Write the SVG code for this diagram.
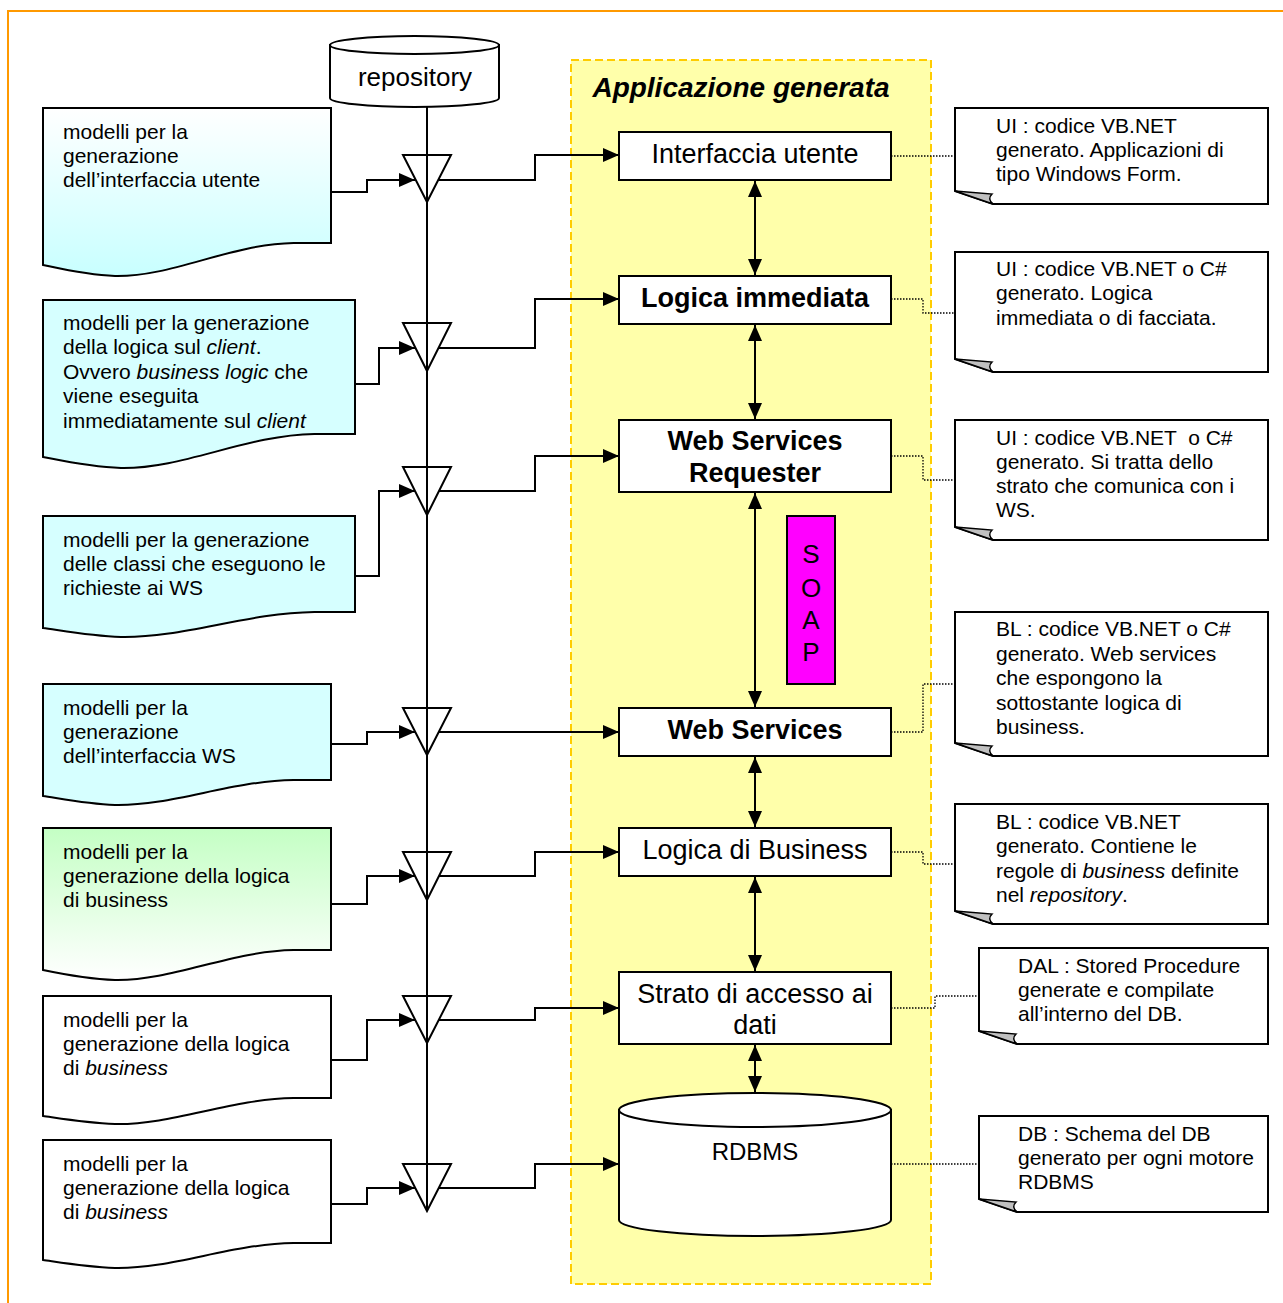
<svg xmlns="http://www.w3.org/2000/svg" width="1283" height="1303" viewBox="0 0 1283 1303">
<defs>
<style>
.t{font-family:"Liberation Sans",Arial,sans-serif;font-size:21px;fill:#000}
.bt{font-family:"Liberation Sans",Arial,sans-serif;font-size:27px;fill:#000;text-anchor:middle}
.b{font-weight:bold}
.doc{stroke:#000;stroke-width:2}
.box{fill:#fff;stroke:#000;stroke-width:2}
.note{fill:#fff;stroke:#000;stroke-width:2}
.fold{fill:#c0c0c0;stroke:#000;stroke-width:1.5}
.conn{fill:none;stroke:#000;stroke-width:2}
.tri{fill:none;stroke:#000;stroke-width:2}
.dot{fill:none;stroke:#000;stroke-width:1.3;stroke-dasharray:1.5 1.5}
</style>
<linearGradient id="gCyan" x1="0" y1="0" x2="0" y2="1"><stop offset="0" stop-color="#ffffff"/><stop offset="1" stop-color="#c8ffff"/></linearGradient>
<linearGradient id="gGreen" x1="0" y1="0" x2="0" y2="1"><stop offset="0" stop-color="#c4ffc4"/><stop offset="1" stop-color="#ffffff"/></linearGradient>
<marker id="ah" viewBox="0 0 16 14" refX="16" refY="7" markerWidth="16" markerHeight="14" markerUnits="userSpaceOnUse" orient="auto-start-reverse"><path d="M0,0 L16,7 L0,14 Z" fill="#000"/></marker>
</defs>

<rect x="8" y="11" width="1290" height="1300" fill="#fff" stroke="#ff9900" stroke-width="2"/>

<g id="container">
<rect x="571" y="60" width="360" height="1224" fill="#ffffaa" stroke="#ffcc00" stroke-width="2" stroke-dasharray="8 4"/>
<text class="bt b" x="741" y="97" style="font-style:italic;font-size:28px">Applicazione generata</text>
</g>

<g id="repository">
<path d="M330,45 V98 A84.5,9 0 0 0 499,98 V45 Z" class="box"/>
<ellipse cx="414.5" cy="45" rx="84.5" ry="9" class="box"/>
<text class="bt" x="415" y="86" style="font-size:26px">repository</text>
</g>

<g id="docs">
<g id="doc1">
<path class="doc" fill="url(#gCyan)" d="M43,108 H331 V243 H293.6 C230.2,244 172.6,277 115,276 C86.2,275 57.4,268 43,265 Z"/>
<text class="t" x="63" y="139">modelli per la</text>
<text class="t" x="63" y="163">generazione</text>
<text class="t" x="63" y="187">dell’interfaccia utente</text>
</g>
<g id="doc2">
<path class="doc" fill="#d6ffff" d="M43,300 H355 V434 H314.4 C245.8,435 183.4,469 121,468 C89.8,467 58.6,460 43,457 Z"/>
<text class="t" x="63" y="330">modelli per la generazione</text>
<text class="t" x="63" y="354">della logica sul <tspan font-style="italic">client</tspan>.</text>
<text class="t" x="63" y="379">Ovvero <tspan font-style="italic">business logic</tspan> che</text>
<text class="t" x="63" y="403">viene eseguita</text>
<text class="t" x="63" y="428">immediatamente sul <tspan font-style="italic">client</tspan></text>
</g>
<g id="doc3">
<path class="doc" fill="#d6ffff" d="M43,516 H355 V612 H314.4 C245.8,613 183.4,638 121,637 C89.8,636 58.6,630 43,628 Z"/>
<text class="t" x="63" y="547">modelli per la generazione</text>
<text class="t" x="63" y="571">delle classi che eseguono le</text>
<text class="t" x="63" y="595">richieste ai WS</text>
</g>
<g id="doc4">
<path class="doc" fill="#d6ffff" d="M43,684 H331 V780 H293.6 C230.2,781 172.6,806 115,805 C86.2,804 57.4,798 43,796 Z"/>
<text class="t" x="63" y="715">modelli per la</text>
<text class="t" x="63" y="739">generazione</text>
<text class="t" x="63" y="763">dell’interfaccia WS</text>
</g>
<g id="doc5">
<path class="doc" fill="url(#gGreen)" d="M43,828 H331 V950 H293.6 C230.2,951 172.6,981 115,980 C86.2,979 57.4,973 43,970 Z"/>
<text class="t" x="63" y="859">modelli per la</text>
<text class="t" x="63" y="883">generazione della logica</text>
<text class="t" x="63" y="907">di business</text>
</g>
<g id="doc6">
<path class="doc" fill="#fff" d="M43,996 H331 V1098 H293.6 C230.2,1099 172.6,1125 115,1124 C86.2,1123 57.4,1118 43,1116 Z"/>
<text class="t" x="63" y="1027">modelli per la</text>
<text class="t" x="63" y="1051">generazione della logica</text>
<text class="t" x="63" y="1075">di <tspan font-style="italic">business</tspan></text>
</g>
<g id="doc7">
<path class="doc" fill="#fff" d="M43,1140 H331 V1243 H293.6 C230.2,1244 172.6,1269 115,1268 C86.2,1267 57.4,1262 43,1260 Z"/>
<text class="t" x="63" y="1171">modelli per la</text>
<text class="t" x="63" y="1195">generazione della logica</text>
<text class="t" x="63" y="1219">di <tspan font-style="italic">business</tspan></text>
</g>
</g>

<g id="merges">
<path class="tri" d="M403,155 H451 L427,202 Z"/>
<path class="tri" d="M403,323 H451 L427,371 Z"/>
<path class="tri" d="M403,467 H451 L427,515 Z"/>
<path class="tri" d="M403,708 H451 L427,755 Z"/>
<path class="tri" d="M403,852 H451 L427,900 Z"/>
<path class="tri" d="M403,996 H451 L427,1043 Z"/>
<path class="tri" d="M403,1164 H451 L427,1211 Z"/>
</g>

<g id="layers">
<g id="n-ui"><rect class="box" x="619" y="132" width="272" height="48"/><text class="bt" x="755" y="163">Interfaccia utente</text></g>
<g id="n-logica"><rect class="box" x="619" y="276" width="272" height="48"/><text class="bt b" x="755" y="307">Logica immediata</text></g>
<g id="n-wsr"><rect class="box" x="619" y="420" width="272" height="72"/><text class="bt b" x="755" y="450">Web Services</text><text class="bt b" x="755" y="482">Requester</text></g>
<g id="n-ws"><rect class="box" x="619" y="708" width="272" height="48"/><text class="bt b" x="755" y="739">Web Services</text></g>
<g id="n-bl"><rect class="box" x="619" y="828" width="272" height="48"/><text class="bt" x="755" y="859">Logica di Business</text></g>
<g id="n-dal"><rect class="box" x="619" y="972" width="272" height="72"/><text class="bt" x="755" y="1003">Strato di accesso ai</text><text class="bt" x="755" y="1034">dati</text></g>
<g id="n-rdbms">
<path class="box" d="M619,1110 V1220 A136,16 0 0 0 891,1220 V1110 Z"/>
<ellipse class="box" cx="755" cy="1110" rx="136" ry="17"/>
<text class="bt" x="755" y="1160" style="font-size:24px">RDBMS</text>
</g>
<g id="soap">
<rect x="787" y="516" width="48" height="168" fill="#ff00ff" stroke="#000" stroke-width="2"/>
<text class="bt" x="811" y="563" style="font-size:26px">S</text>
<text class="bt" x="811" y="597" style="font-size:26px">O</text>
<text class="bt" x="811" y="629" style="font-size:26px">A</text>
<text class="bt" x="811" y="661" style="font-size:26px">P</text>
</g>
</g>

<g id="notes">
<g id="note1">
<path class="note" d="M955,108 H1268 V204 H993 L955,191 Z"/>
<path class="fold" d="M955,191 L992,194 Q987,199 993,204 Z"/>
<text class="t" x="996" y="133">UI : codice VB.NET</text>
<text class="t" x="996" y="157">generato. Applicazioni di</text>
<text class="t" x="996" y="181">tipo Windows Form.</text>
</g>
<g id="note2">
<path class="note" d="M955,252 H1268 V372 H993 L955,359 Z"/>
<path class="fold" d="M955,359 L992,362 Q987,367 993,372 Z"/>
<text class="t" x="996" y="276">UI : codice VB.NET o C#</text>
<text class="t" x="996" y="300">generato. Logica</text>
<text class="t" x="996" y="325">immediata o di facciata.</text>
</g>
<g id="note3">
<path class="note" d="M955,420 H1268 V540 H993 L955,527 Z"/>
<path class="fold" d="M955,527 L992,530 Q987,535 993,540 Z"/>
<text class="t" x="996" y="445" xml:space="preserve" style="white-space:pre">UI : codice VB.NET  o C#</text>
<text class="t" x="996" y="469">generato. Si tratta dello</text>
<text class="t" x="996" y="493">strato che comunica con i</text>
<text class="t" x="996" y="517">WS.</text>
</g>
<g id="note4">
<path class="note" d="M955,612 H1268 V756 H993 L955,743 Z"/>
<path class="fold" d="M955,743 L992,746 Q987,751 993,756 Z"/>
<text class="t" x="996" y="636">BL : codice VB.NET o C#</text>
<text class="t" x="996" y="661">generato. Web services</text>
<text class="t" x="996" y="685">che espongono la</text>
<text class="t" x="996" y="710">sottostante logica di</text>
<text class="t" x="996" y="734">business.</text>
</g>
<g id="note5">
<path class="note" d="M955,804 H1268 V924 H993 L955,911 Z"/>
<path class="fold" d="M955,911 L992,914 Q987,919 993,924 Z"/>
<text class="t" x="996" y="829">BL : codice VB.NET</text>
<text class="t" x="996" y="853">generato. Contiene le</text>
<text class="t" x="996" y="878">regole di <tspan font-style="italic">business</tspan> definite</text>
<text class="t" x="996" y="902">nel <tspan font-style="italic">repository</tspan>.</text>
</g>
<g id="note6">
<path class="note" d="M979,948 H1268 V1044 H1017 L979,1031 Z"/>
<path class="fold" d="M979,1031 L1016,1034 Q1011,1039 1017,1044 Z"/>
<text class="t" x="1018" y="973">DAL : Stored Procedure</text>
<text class="t" x="1018" y="997">generate e compilate</text>
<text class="t" x="1018" y="1021">all’interno del DB.</text>
</g>
<g id="note7">
<path class="note" d="M979,1116 H1268 V1212 H1017 L979,1199 Z"/>
<path class="fold" d="M979,1199 L1016,1202 Q1011,1207 1017,1212 Z"/>
<text class="t" x="1018" y="1141">DB : Schema del DB</text>
<text class="t" x="1018" y="1165">generato per ogni motore</text>
<text class="t" x="1018" y="1189">RDBMS</text>
</g>
</g>

<g id="connectors">
<line class="conn" x1="427" y1="107" x2="427" y2="1211"/>
<path class="conn" marker-end="url(#ah)" d="M331,192 H367 V180 H415"/>
<path class="conn" marker-end="url(#ah)" d="M355,384 H379 V348 H415"/>
<path class="conn" marker-end="url(#ah)" d="M355,576 H379 V491 H415"/>
<path class="conn" marker-end="url(#ah)" d="M331,744 H367 V732 H415"/>
<path class="conn" marker-end="url(#ah)" d="M331,904 H367 V876 H415"/>
<path class="conn" marker-end="url(#ah)" d="M331,1060 H367 V1020 H415"/>
<path class="conn" marker-end="url(#ah)" d="M331,1204 H367 V1188 H415"/>

<path class="conn" marker-end="url(#ah)" d="M439,180 H535 V155 H619"/>
<path class="conn" marker-end="url(#ah)" d="M439,348 H535 V299 H619"/>
<path class="conn" marker-end="url(#ah)" d="M439,491 H535 V456 H619"/>
<path class="conn" marker-end="url(#ah)" d="M439,732 H619"/>
<path class="conn" marker-end="url(#ah)" d="M439,876 H535 V852 H619"/>
<path class="conn" marker-end="url(#ah)" d="M439,1020 H535 V1008 H619"/>
<path class="conn" marker-end="url(#ah)" d="M439,1188 H535 V1164 H619"/>

<line class="conn" marker-start="url(#ah)" marker-end="url(#ah)" x1="755" y1="181" x2="755" y2="275"/>
<line class="conn" marker-start="url(#ah)" marker-end="url(#ah)" x1="755" y1="325" x2="755" y2="419"/>
<line class="conn" marker-start="url(#ah)" marker-end="url(#ah)" x1="755" y1="493" x2="755" y2="707"/>
<line class="conn" marker-start="url(#ah)" marker-end="url(#ah)" x1="755" y1="757" x2="755" y2="827"/>
<line class="conn" marker-start="url(#ah)" marker-end="url(#ah)" x1="755" y1="877" x2="755" y2="971"/>
<line class="conn" marker-start="url(#ah)" marker-end="url(#ah)" x1="755" y1="1045" x2="755" y2="1092"/>

<path class="dot" d="M891,156 H955"/>
<path class="dot" d="M891,299 H923 V313 H955"/>
<path class="dot" d="M891,456 H923 V480 H955"/>
<path class="dot" d="M891,732 H923 V684 H955"/>
<path class="dot" d="M891,852 H923 V864 H955"/>
<path class="dot" d="M891,1008 H935 V996 H979"/>
<path class="dot" d="M891,1164 H979"/>
</g>
</svg>
